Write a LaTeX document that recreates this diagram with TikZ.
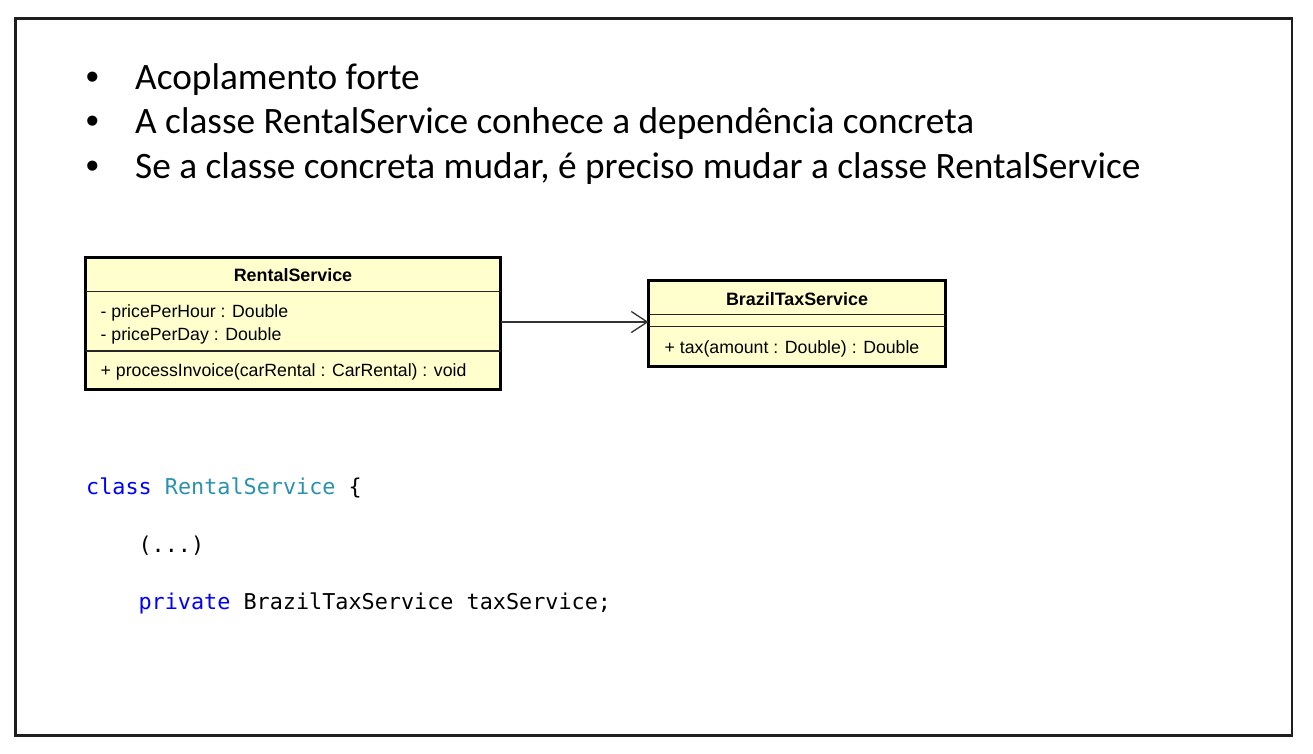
\documentclass[tikz,border=0pt]{standalone}
\usepackage{fontspec}
\setmainfont{Carlito}
\newfontfamily\umlfont[WordSpace=0.6]{Liberation Sans}
\newfontfamily\bulletfont{Liberation Sans}
\newfontfamily\codefont{DejaVu Sans Mono}
\usetikzlibrary{arrows.meta}
\definecolor{umlfill}{RGB}{255,255,206}
\definecolor{kwblue}{RGB}{0,0,255}
\definecolor{typeteal}{RGB}{43,145,175}
\definecolor{framegray}{RGB}{30,30,30}
\tikzset{
  bullettext/.style={anchor=base west, inner sep=0pt, font=\fontsize{37.3}{44}\selectfont},
  bulletdot/.style={anchor=base, inner sep=0pt, font=\bulletfont\fontsize{37.3}{44}\selectfont},
  umlbox/.style={draw=black, fill=umlfill, line width=2.6pt, inner sep=0pt, outer sep=0pt},
  umldiv/.style={draw=black!85, line width=1.3pt},
  umltitle/.style={anchor=base, inner sep=0pt, font=\umlfont\bfseries\fontsize{17.9}{21}\selectfont},
  umltext/.style={anchor=base west, inner sep=0pt, font=\umlfont\fontsize{17.7}{21}\selectfont},
  codetext/.style={anchor=base west, inner sep=0pt, font=\codefont\fontsize{21.8}{26}\selectfont},
  assoc/.style={draw=black!80, line width=1.3pt, -{Straight Barb[length=16pt,width=21pt,line width=1.3pt]}}
}
\begin{document}
\begin{tikzpicture}[x=1pt,y=-1pt]
\useasboundingbox (0,0) rectangle (1313,753);
\fill[white] (0,0) rectangle (1313,753);
% frame
\draw[framegray, line width=2.2pt] (15.5,18.5) rectangle (1292,735.5);

% bullets
\node[bulletdot] (b1) at (92.5,89) {\textbullet};
\node[bulletdot] (b2) at (92.5,133.5) {\textbullet};
\node[bulletdot] (b3) at (92.5,178) {\textbullet};
\node[bullettext] (t1) at (135,89) {Acoplamento forte};
\node[bullettext] (t2) at (135,133.5) {A classe RentalService conhece a dependência concreta};
\node[bullettext] (t3) at (135,178) {Se a classe concreta mudar, é preciso mudar a classe RentalService};

% UML class RentalService
\node[umlbox, minimum width=415pt, minimum height=132pt] (rs) at (293,323.5) {};
\draw[umldiv] (rs.west |- 0,291.7) -- (rs.east |- 0,291.7);
\draw[umldiv] (rs.west |- 0,351) -- (rs.east |- 0,351);
\node[umltitle] (rsname) at (293,281.7) {RentalService};
\node[umltext] (rsa1) at (100.5,317.5) {- pricePerHour : Double};
\node[umltext] (rsa2) at (100.5,340) {- pricePerDay : Double};
\node[umltext] (rsm1) at (100.5,376.5) {+ processInvoice(carRental : CarRental) : void};

% UML class BrazilTaxService
\node[umlbox, minimum width=297pt, minimum height=86pt] (bts) at (797,323.5) {};
\draw[umldiv] (bts.west |- 0,314.3) -- (bts.east |- 0,314.3);
\draw[umldiv] (bts.west |- 0,326.7) -- (bts.east |- 0,326.7);
\node[umltitle] (btsname) at (797,305.5) {BrazilTaxService};
\node[umltext] (btsm1) at (664.5,353.3) {+ tax(amount : Double) : Double};

% association
\draw[assoc] (rs.east |- 0,322) -- (bts.west |- 0,322);

% code
\node[codetext] (c1) at (86,494) {\textcolor{kwblue}{class} \textcolor{typeteal}{RentalService} \{};
\node[codetext] (c2) at (138.4,552) {(...)};
\node[codetext] (c3) at (138.4,609) {\textcolor{kwblue}{private} BrazilTaxService taxService;};
\end{tikzpicture}
\end{document}
